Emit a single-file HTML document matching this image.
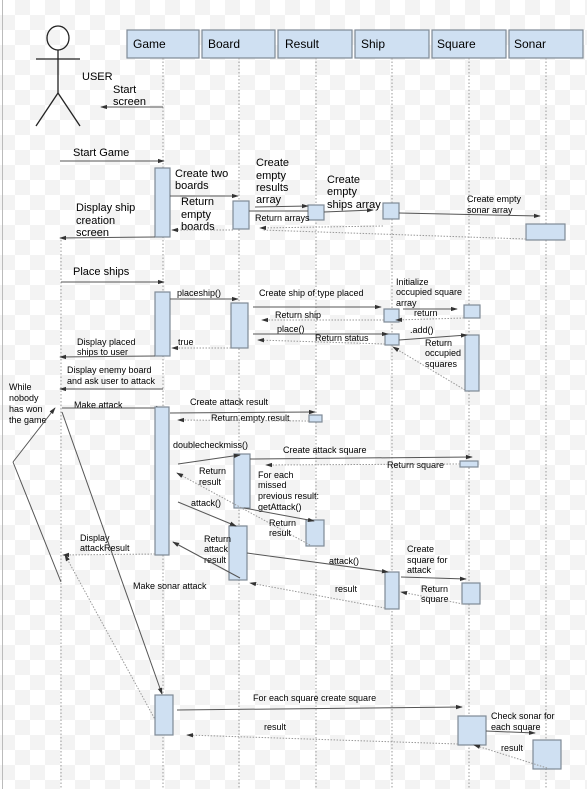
<!DOCTYPE html>
<html><head><meta charset="utf-8"><style>
html,body{margin:0;padding:0;width:587px;height:789px;overflow:hidden;}
body{background-color:#fff;background-image:
linear-gradient(45deg,#f3f3f3 25%,transparent 25%,transparent 75%,#f3f3f3 75%),
linear-gradient(45deg,#f3f3f3 25%,transparent 25%,transparent 75%,#f3f3f3 75%);
background-size:30px 30px;background-position:0 0,15px 15px;}
svg{position:absolute;left:0;top:0;}
text{font-family:"Liberation Sans",Arial,sans-serif;fill:#000;}
.b{font-size:11px}.s{font-size:9px}
.hd{font-size:12px}
.act{fill:#cfe0f2;stroke:#7f8a96;stroke-width:1.2}
.ll{stroke:#999;stroke-width:1;stroke-dasharray:1.5,2}
.m{stroke:#555;stroke-width:1;fill:none}
.r{stroke:#999;stroke-width:1;stroke-dasharray:1.5,1.5;fill:none}
</style></head><body>
<svg width="587" height="789" viewBox="0 0 587 789" xmlns="http://www.w3.org/2000/svg">
<defs>
<marker id="a" viewBox="0 0 8 8" refX="7" refY="4" markerWidth="7" markerHeight="7" orient="auto"><path d="M0,1.5 L8,4 L0,6.5z" fill="#333"/></marker>
</defs>
<line x1="2.5" y1="0" x2="2.5" y2="789" stroke="#bbb"/>
<!-- header boxes -->
<g fill="#cfe0f2" stroke="#7f8a96" stroke-width="1.2">
<rect x="127" y="30" width="72" height="28"/><rect x="202" y="30" width="73" height="28"/>
<rect x="278" y="30" width="74" height="28"/><rect x="355" y="30" width="74" height="28"/>
<rect x="432" y="30" width="74" height="28"/><rect x="509" y="30" width="74" height="28"/>
</g>
<text class="hd" x="133" y="48">Game</text><text class="hd" x="208" y="48">Board</text>
<text class="hd" x="285" y="48">Result</text><text class="hd" x="361" y="48">Ship</text>
<text class="hd" x="437" y="48">Square</text><text class="hd" x="514" y="48">Sonar</text>
<!-- lifelines -->
<line class="ll" x1="163" y1="58" x2="163" y2="789"/><line class="ll" x1="239" y1="58" x2="239" y2="789"/>
<line class="ll" x1="316" y1="58" x2="316" y2="789"/><line class="ll" x1="392" y1="58" x2="392" y2="789"/>
<line class="ll" x1="469" y1="58" x2="469" y2="789"/><line class="ll" x1="546" y1="58" x2="546" y2="789"/>
<line class="ll" x1="61" y1="240" x2="61" y2="789"/>
<!-- actor -->
<g stroke="#222" stroke-width="1.3" fill="none">
<ellipse cx="58" cy="38" rx="11" ry="12"/>
<line x1="58" y1="50" x2="58" y2="93"/><line x1="36" y1="59" x2="80" y2="59"/>
<line x1="58" y1="93" x2="36" y2="126"/><line x1="58" y1="93" x2="80" y2="126"/>
</g>
<text class="b" x="82" y="80">USER</text>
<text class="b" x="113" y="93">Start</text><text class="b" x="113" y="105">screen</text>
<line class="m" x1="163" y1="107" x2="101" y2="107" marker-end="url(#a)"/>
<text class="b" x="73" y="156">Start Game</text>
<line class="m" x1="60" y1="161" x2="164" y2="161" marker-end="url(#a)"/>
<!-- activations -->
<rect class="act" x="155" y="168" width="15" height="69"/>
<rect class="act" x="233" y="201" width="16" height="28"/>
<rect class="act" x="308" y="205" width="16" height="15"/>
<rect class="act" x="383" y="203" width="16" height="16"/>
<rect class="act" x="526" y="224" width="39" height="16"/>
<text class="b" x="175" y="177">Create two</text><text class="b" x="175" y="189">boards</text>
<line class="m" x1="170" y1="196" x2="238" y2="196" marker-end="url(#a)"/>
<text class="b" x="181" y="205">Return</text><text class="b" x="181" y="218">empty</text><text class="b" x="181" y="230">boards</text>
<line class="r" x1="233" y1="230" x2="172" y2="230" marker-end="url(#a)"/>
<text class="b" x="76" y="211">Display ship</text><text class="b" x="76" y="224">creation</text><text class="b" x="76" y="236">screen</text>
<line class="m" x1="155" y1="237" x2="60" y2="238" marker-end="url(#a)"/>
<text class="b" x="256" y="166">Create</text><text class="b" x="256" y="179">empty</text><text class="b" x="256" y="191">results</text><text class="b" x="256" y="203">array</text>
<line class="m" x1="255" y1="207" x2="308" y2="206" marker-end="url(#a)"/>
<line class="m" x1="249" y1="211" x2="308" y2="211"/>
<text class="s" x="255" y="221">Return arrays</text>
<line class="r" x1="383" y1="226" x2="260" y2="228" marker-end="url(#a)"/>
<line class="r" x1="526" y1="239" x2="262" y2="230"/>
<text class="b" x="327" y="183">Create</text><text class="b" x="327" y="195">empty</text><text class="b" x="327" y="208">ships array</text>
<line class="m" x1="324" y1="212" x2="373" y2="210" marker-end="url(#a)"/>
<text class="s" x="467" y="202">Create empty</text><text class="s" x="467" y="213">sonar array</text>
<line class="m" x1="399" y1="213" x2="540" y2="216" marker-end="url(#a)"/>
<!-- place ships -->
<line class="ll" x1="40" y1="232" x2="40" y2="232"/>
<text class="b" x="73" y="275">Place ships</text>
<line class="m" x1="61" y1="282" x2="164" y2="282" marker-end="url(#a)"/>
<rect class="act" x="155" y="292" width="15" height="64"/>
<rect class="act" x="231" y="303" width="17" height="45"/>
<rect class="act" x="384" y="309" width="15" height="13"/>
<rect class="act" x="385" y="334" width="14" height="11"/>
<rect class="act" x="464" y="305" width="16" height="13"/>
<rect class="act" x="465" y="335" width="14" height="56"/>
<text class="s" x="177" y="296">placeship()</text>
<line class="m" x1="170" y1="299" x2="238" y2="299" marker-end="url(#a)"/>
<text class="s" x="259" y="296">Create ship of type placed</text>
<line class="m" x1="253" y1="307" x2="381" y2="307" marker-end="url(#a)"/>
<text class="s" x="275" y="318">Return ship</text>
<line class="r" x1="384" y1="320" x2="262" y2="320" marker-end="url(#a)"/>
<text class="s" x="277" y="332">place()</text>
<line class="m" x1="253" y1="334" x2="388" y2="334" marker-end="url(#a)"/>
<text class="s" x="315" y="341">Return status</text>
<line class="r" x1="385" y1="344" x2="258" y2="340" marker-end="url(#a)"/>
<text class="s" x="178" y="345">true</text>
<line class="r" x1="231" y1="348" x2="172" y2="348" marker-end="url(#a)"/>
<text class="s" x="77" y="345">Display placed</text><text class="s" x="77" y="355">ships to user</text>
<line class="m" x1="155" y1="356" x2="60" y2="357" marker-end="url(#a)"/>
<text class="s" x="67" y="373">Display enemy board</text><text class="s" x="67" y="384">and ask user to attack</text>
<line class="m" x1="163" y1="389" x2="60" y2="389" marker-end="url(#a)"/>
<text class="s" x="396" y="285">Initialize</text><text class="s" x="396" y="295">occupied square</text><text class="s" x="396" y="306">array</text>
<line class="m" x1="403" y1="309" x2="457" y2="309" marker-end="url(#a)"/>
<text class="s" x="414" y="316">return</text>
<line class="r" x1="464" y1="318" x2="396" y2="320" marker-end="url(#a)"/>
<text class="s" x="410" y="333">.add()</text>
<line class="m" x1="399" y1="340" x2="467" y2="335" marker-end="url(#a)"/>
<text class="s" x="425" y="346">Return</text><text class="s" x="425" y="356">occupied</text><text class="s" x="425" y="367">squares</text>
<line class="r" x1="465" y1="390" x2="393" y2="347" marker-end="url(#a)"/>
<!-- attack loop -->
<text class="s" x="9" y="390">While</text><text class="s" x="9" y="401">nobody</text><text class="s" x="9" y="412">has won</text><text class="s" x="9" y="423">the game</text>
<line class="m" x1="61" y1="582" x2="13" y2="462"/>
<line class="m" x1="13" y1="462" x2="55" y2="408" marker-end="url(#a)"/>
<text class="s" x="74" y="408">Make attack</text>
<line class="m" x1="62" y1="408" x2="162" y2="408" marker-end="url(#a)"/>
<rect class="act" x="155" y="407" width="14" height="148"/>
<rect class="act" x="309" y="415" width="13" height="7"/>
<text class="s" x="190" y="405">Create attack result</text>
<line class="m" x1="170" y1="413" x2="315" y2="412" marker-end="url(#a)"/>
<text class="s" x="211" y="421">Return empty result</text>
<line class="r" x1="309" y1="421" x2="178" y2="420" marker-end="url(#a)"/>
<rect class="act" x="234" y="454" width="16" height="54"/>
<rect class="act" x="460" y="461" width="18" height="6"/>
<rect class="act" x="306" y="520" width="18" height="26"/>
<rect class="act" x="229" y="526" width="18" height="54"/>
<text class="s" x="173" y="448">doublecheckmiss()</text>
<line class="m" x1="178" y1="464" x2="240" y2="455" marker-end="url(#a)"/>
<text class="s" x="283" y="453">Create attack square</text>
<line class="m" x1="250" y1="459" x2="472" y2="457" marker-end="url(#a)"/>
<text class="s" x="387" y="468">Return square</text>
<line class="r" x1="460" y1="464" x2="266" y2="465" marker-end="url(#a)"/>
<text class="s" x="199" y="474">Return</text><text class="s" x="199" y="485">result</text>
<line class="r" x1="310" y1="545" x2="177" y2="473" marker-end="url(#a)"/>
<text class="s" x="258" y="478">For each</text><text class="s" x="258" y="488">missed</text><text class="s" x="258" y="499">previous result:</text><text class="s" x="258" y="510">getAttack()</text>
<line class="m" x1="244" y1="508" x2="314" y2="521" marker-end="url(#a)"/>
<text class="s" x="269" y="526">Return</text><text class="s" x="269" y="536">result</text>
<text class="s" x="191" y="506">attack()</text>
<line class="m" x1="178" y1="502" x2="236" y2="526" marker-end="url(#a)"/>
<text class="s" x="204" y="542">Return</text><text class="s" x="204" y="552">attack</text><text class="s" x="204" y="563">result</text>
<line class="m" x1="240" y1="578" x2="173" y2="542" marker-end="url(#a)"/>
<text class="s" x="80" y="541">Display</text><text class="s" x="80" y="551">attackResult</text>
<line class="r" x1="155" y1="554" x2="63" y2="555" marker-end="url(#a)"/>
<rect class="act" x="385" y="572" width="14" height="37"/>
<rect class="act" x="462" y="583" width="18" height="21"/>
<text class="s" x="329" y="564">attack()</text>
<line class="m" x1="247" y1="553" x2="388" y2="572" marker-end="url(#a)"/>
<text class="s" x="407" y="552">Create</text><text class="s" x="407" y="563">square for</text><text class="s" x="407" y="573">attack</text>
<line class="m" x1="401" y1="577" x2="466" y2="579" marker-end="url(#a)"/>
<text class="s" x="421" y="592">Return</text><text class="s" x="421" y="602">square</text>
<line class="r" x1="463" y1="604" x2="401" y2="592" marker-end="url(#a)"/>
<text class="s" x="335" y="592">result</text>
<line class="r" x1="385" y1="608" x2="250" y2="583" marker-end="url(#a)"/>
<!-- sonar -->
<text class="s" x="133" y="589">Make sonar attack</text>
<line class="m" x1="62" y1="412" x2="162" y2="694" marker-end="url(#a)"/>
<line class="r" x1="163" y1="734" x2="65" y2="555" marker-end="url(#a)"/>
<rect class="act" x="155" y="695" width="18" height="40"/>
<rect class="act" x="458" y="716" width="28" height="29"/>
<rect class="act" x="533" y="740" width="28" height="29"/>
<text class="s" x="253" y="701">For each square create square</text>
<line class="m" x1="177" y1="710" x2="462" y2="707" marker-end="url(#a)"/>
<text class="s" x="264" y="730">result</text>
<line class="r" x1="458" y1="744" x2="187" y2="735" marker-end="url(#a)"/>
<text class="s" x="491" y="719">Check sonar for</text><text class="s" x="491" y="730">each square</text>
<line class="m" x1="486" y1="731" x2="535" y2="733" marker-end="url(#a)"/>
<text class="s" x="501" y="751">result</text>
<line class="r" x1="547" y1="768" x2="474" y2="745" marker-end="url(#a)"/>
</svg>
</body></html>
